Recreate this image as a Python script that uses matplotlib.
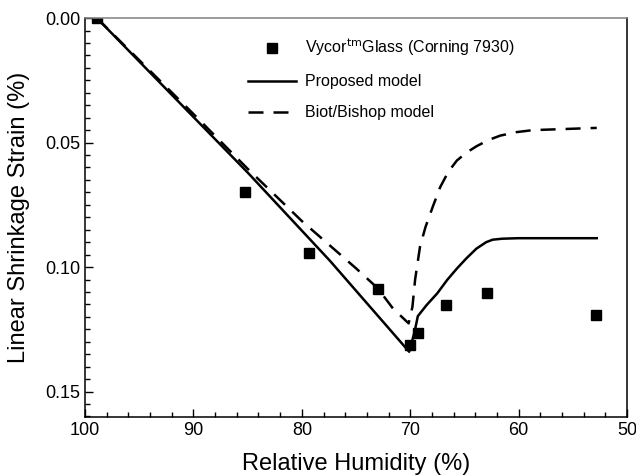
import matplotlib
matplotlib.use('Agg')
import matplotlib.pyplot as plt
from matplotlib.ticker import MultipleLocator, FormatStrFormatter

plt.rcParams['font.family'] = ['Liberation Sans', 'DejaVu Sans']

# measured data (Vycor glass)
rh_exp = [98.9, 85.2, 79.3, 73.0, 70.0, 69.3, 66.7, 62.9, 52.9]
strain_exp = [0.000, 0.0699, 0.0944, 0.1088, 0.1313, 0.1265, 0.1153, 0.1103, 0.1194]

# proposed model
rh_prop = [98.9, 85.0, 77.4, 70.1, 69.6, 69.3, 68.5, 67.5, 66.6, 65.7, 64.8, 63.9, 63.0, 62.4, 61.5, 60.0, 52.8]
strain_prop = [0.000, 0.0620, 0.0975, 0.1340, 0.1260, 0.1197, 0.1153, 0.1105, 0.1052, 0.1006, 0.0964, 0.0926, 0.0900, 0.0890, 0.0886, 0.0884, 0.0884]

# Biot/Bishop model
rh_biot = [98.9, 90.0, 85.0, 80.0, 75.0, 73.0, 71.6, 70.15, 69.8, 69.55, 69.1, 68.6, 67.9, 67.25, 66.5, 65.7, 64.8, 63.9, 62.8, 61.7, 60.2, 58.7, 52.8]
strain_biot = [0.000, 0.0385, 0.0605, 0.0815, 0.1005, 0.1085, 0.1166, 0.1226, 0.1160, 0.1050, 0.0918, 0.0840, 0.0755, 0.0680, 0.0618, 0.0572, 0.0540, 0.0515, 0.0490, 0.0472, 0.0458, 0.0450, 0.0441]

fig = plt.figure(figsize=(6.36, 4.76), dpi=100)
ax = fig.add_axes([0.1336, 0.124, 0.8524, 0.838])

ax.plot(rh_exp, strain_exp, 's', color='black', markersize=6.5, linestyle='none',
        label='Vycor$^{\\rm tm}$Glass (Corning 7930)')
ax.plot(rh_prop, strain_prop, '-', color='black', linewidth=1.8, label='Proposed model')
ax.plot(rh_biot, strain_biot, '--', color='black', linewidth=1.8, dashes=(6, 4),
        label='Biot/Bishop model')

ax.set_xlim(100, 50)
ax.set_ylim(0.1602, 0.0)
ax.xaxis.set_major_locator(MultipleLocator(10))
ax.xaxis.set_minor_locator(MultipleLocator(2))
ax.yaxis.set_major_locator(MultipleLocator(0.05))
ax.yaxis.set_minor_locator(MultipleLocator(0.005))
ax.yaxis.set_major_formatter(FormatStrFormatter('%.2f'))
ax.tick_params(which='both', direction='in', top=False, right=False, labelsize=13)
ax.tick_params(which='major', length=6, width=1)
ax.tick_params(which='minor', length=3.5, width=1)
for s in ax.spines.values():
    s.set_linewidth(1.1)
ax.spines['top'].set_color('#808080')

ax.set_xlabel('Relative Humidity (%)', fontsize=17, labelpad=10)
ax.set_ylabel('Linear Shrinkage Strain (%)', fontsize=17, labelpad=11)

ax.legend(loc='upper left', bbox_to_anchor=(0.275, 0.99), frameon=False, fontsize=11.5,
          handlelength=3.0, handletextpad=0.55, labelspacing=1.0)

fig.savefig('out.png', dpi=100)
